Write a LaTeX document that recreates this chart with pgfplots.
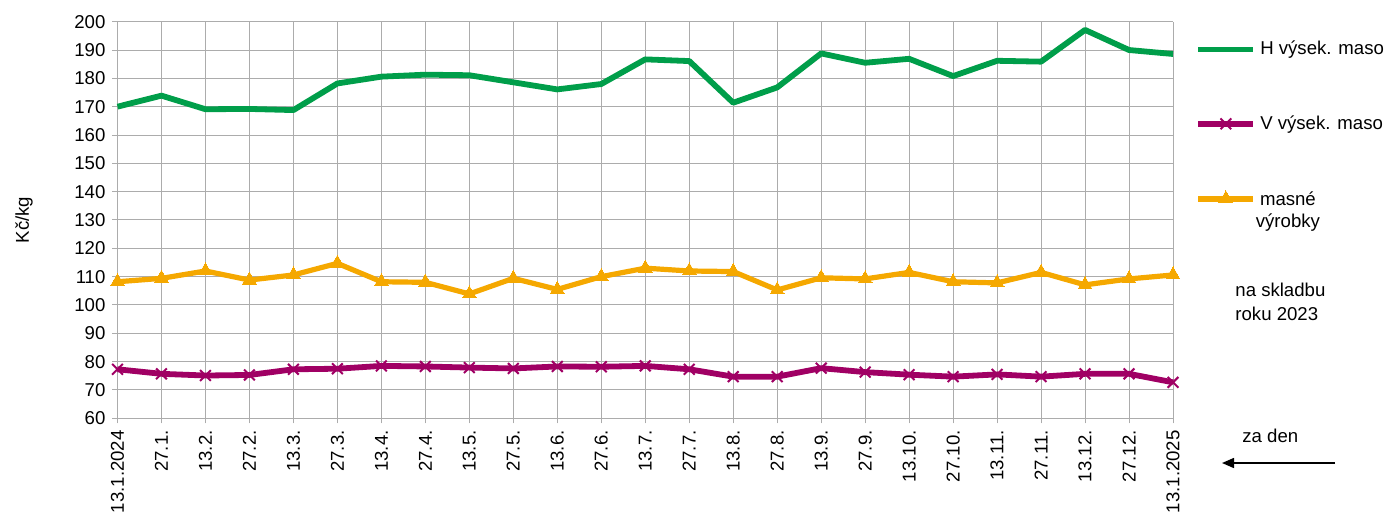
\documentclass[border=0pt]{standalone}
\usepackage{pgfplots}
\pgfplotsset{compat=1.18}
\usepackage{pgfplotstable}
\usepackage{fontspec}
\setmainfont{Liberation Sans}
\usetikzlibrary{arrows.meta}

\definecolor{hgreen}{RGB}{0,158,74}
\definecolor{vpurple}{RGB}{160,0,100}
\definecolor{morange}{RGB}{245,168,0}
\definecolor{gridgray}{RGB}{172,172,172}

% prices in Kc/kg, every second week
\pgfplotstableread{
x  h      v     m
0  170.0  77.3  108.2
1  173.9  75.7  109.4
2  169.1  75.1  112.0
3  169.2  75.3  108.8
4  168.8  77.3  110.6
5  178.2  77.5  114.7
6  180.6  78.5  108.2
7  181.3  78.3  108.0
8  181.1  77.9  103.9
9  178.6  77.6  109.4
10 176.1  78.3  105.5
11 178.0  78.2  110.0
12 186.7  78.5  113.0
13 186.1  77.3  112.0
14 171.4  74.7  111.8
15 176.8  74.7  105.3
16 188.8  77.7  109.6
17 185.5  76.3  109.2
18 186.9  75.4  111.5
19 180.8  74.7  108.2
20 186.2  75.5  107.8
21 185.9  74.7  111.5
22 197.1  75.7  107.1
23 190.0  75.7  109.2
24 188.6  72.7  110.6
}\prices

\begin{document}
\begin{tikzpicture}
\useasboundingbox (0,0) rectangle (700pt,262.5pt);
\begin{axis}[
    at={(58.75pt,53.35pt)}, anchor=south west,
    scale only axis, width=527.75pt, height=198.3pt,
    xmin=0, xmax=24, ymin=60, ymax=200,
    ytick={60,70,...,200},
    xtick={0,...,24},
    xticklabels={13.1.2024,27.1.,13.2.,27.2.,13.3.,27.3.,13.4.,27.4.,13.5.,27.5.,13.6.,27.6.,13.7.,27.7.,13.8.,27.8.,13.9.,27.9.,13.10.,27.10.,13.11.,27.11.,13.12.,27.12.,13.1.2025},
    font=\fontsize{9.3}{11}\selectfont,
    /pgf/number format/assume math mode=true,
    xticklabel style={rotate=90, anchor=east},
    axis line style={draw=none},
    axis x line*=bottom,
    x axis line style={draw=gridgray, line width=0.5pt},
    tick style={draw=gridgray, line width=0.5pt},
    tick align=outside, major tick length=2.5pt,
    ytick pos=left, xtick pos=bottom,
    grid=major,
    major grid style={draw=gridgray, line width=0.5pt},
    ylabel={Kč/kg},
    ylabel style={at={(axis description cs:-0.0885,0.5)}, anchor=center},
    legend style={at={(axis description cs:1.0209,0.962)}, anchor=north west,
        draw=none, fill=none, inner sep=0pt, row sep=24.8pt,
        nodes={inner sep=2pt}},
    legend cell align=left,
    legend image code/.code={\draw[mark repeat=2,mark phase=2]
        plot coordinates {(0pt,0pt) (13.75pt,0pt) (27.5pt,0pt)};},
    clip=false,
]
\addplot[hgreen, line width=2.9pt, line join=round] table[x=x,y=h] {\prices};
\addlegendentry{H výsek. maso}
\addplot[vpurple, line width=2.9pt, line join=round,
    mark=x, mark size=3.8pt, mark options={line width=1pt, solid}] table[x=x,y=v] {\prices};
\addlegendentry{V výsek. maso}
\addplot[morange, line width=2.6pt, line join=round,
    mark=triangle*, mark size=4pt, mark options={line width=0pt}] table[x=x,y=m] {\prices};
\addlegendentry{\hspace*{-2.2pt}\begin{tabular}[t]{@{}c@{}}masné\\výrobky\end{tabular}}
\end{axis}
\node[anchor=north west, inner sep=0pt, align=left,
    font=\fontsize{9.3}{11.75}\selectfont] at (617.5pt,121pt) {na skladbu\\roku 2023};
\node[anchor=north west, inner sep=0pt,
    font=\fontsize{9.3}{11}\selectfont] at (621pt,48pt) {za den};
\draw[line width=0.75pt, -{Triangle[length=6pt,width=5pt]}] (667.5pt,31pt) -- (611pt,31pt);
\end{tikzpicture}
\end{document}
